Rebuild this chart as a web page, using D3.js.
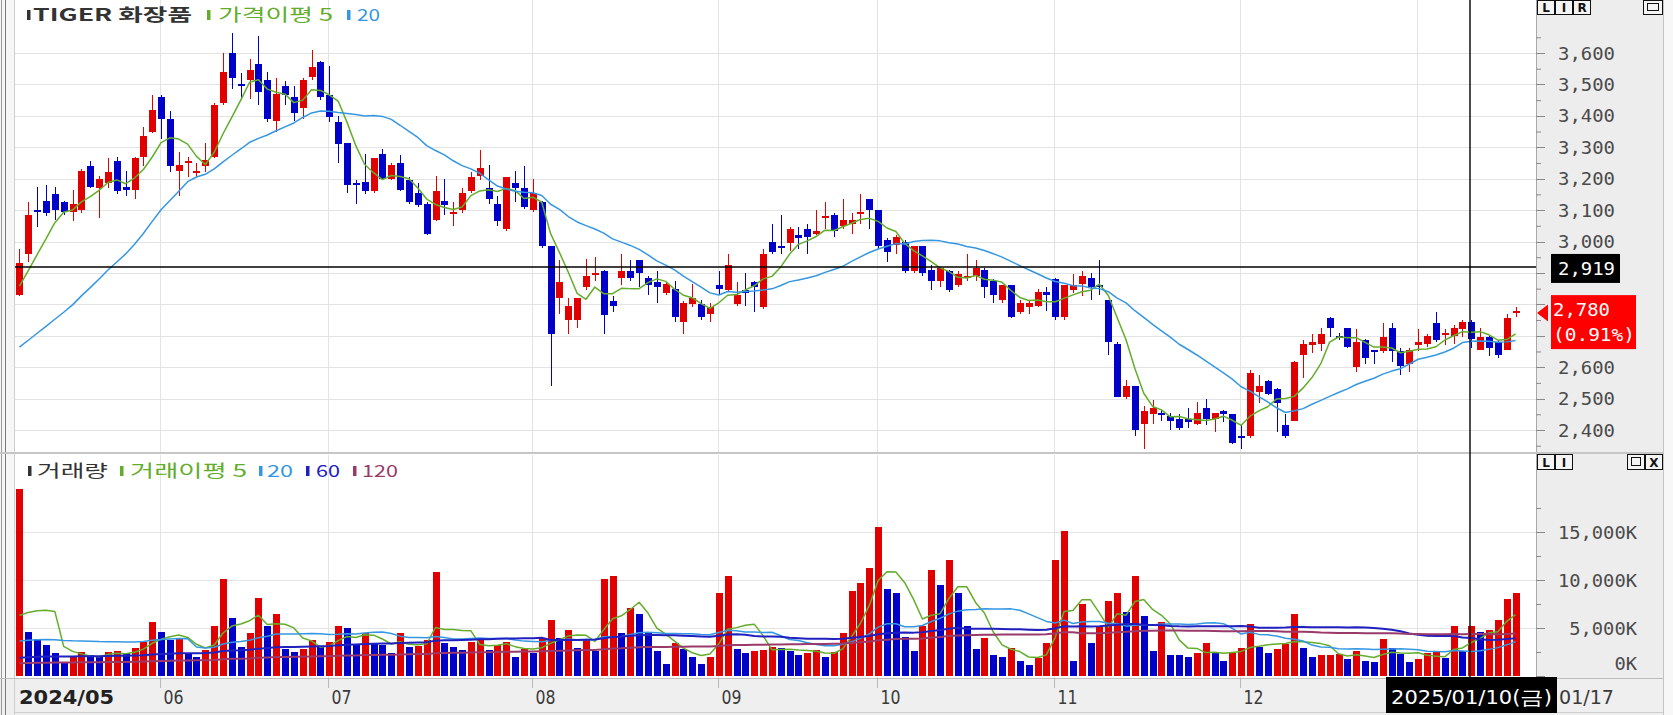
<!DOCTYPE html>
<html><head><meta charset="utf-8">
<script src="https://cdn.jsdelivr.net/npm/d3@7"></script>
<style>html,body{margin:0;padding:0;background:#fff;overflow:hidden}</style>
</head><body><svg id="c" width="1673" height="715"></svg>
<script>
// ---------------- DATA ----------------
const monthDays = [
 ["2024/05", [9,10,13,14,16,17,20,21,22,23,24,27,28,29,30,31]],
 ["2024/06", [3,4,5,7,10,11,12,13,14,17,18,19,20,21,24,25,26,27,28]],
 ["2024/07", [1,2,3,4,5,8,9,10,11,12,15,16,17,18,19,22,23,24,25,26,29,30,31]],
 ["2024/08", [1,2,5,6,7,8,9,12,13,14,16,19,20,21,22,23,26,27,28,29,30]],
 ["2024/09", [2,3,4,5,6,9,10,11,12,13,19,20,23,24,25,26,27,30]],
 ["2024/10", [2,4,7,8,10,11,14,15,16,17,18,21,22,23,24,25,28,29,30,31]],
 ["2024/11", [1,4,5,6,7,8,11,12,13,14,15,18,19,20,21,22,25,26,27,28,29]],
 ["2024/12", [2,3,4,5,6,9,10,11,12,13,16,17,18,19,20,23,24,26,27,30]],
 ["2025/01", [2,3,6,7,8,9,10,13,14,15,16,17]]
];

const open = [
 2830,2960,3100,3130,3150,3125,3095,3100,3240,3170,
 3185,3255,3175,3165,3270,3350,3460,3390,3225,3250,
 3220,3240,3270,3440,3600,3500,3515,3565,3515,3385,
 3495,3460,3425,3525,3570,3465,3380,3315,3185,3190,
 3160,3280,3200,3250,3195,3155,3120,3070,3130,3090,
 3100,3160,3210,3170,3120,3040,3185,3170,3100,3125,
 2985,2820,2750,2750,2855,2895,2905,2810,2885,2905,
 2940,2885,2870,2835,2850,2745,2800,2800,2770,2860,
 2845,2800,2845,2870,2790,3000,2985,2995,3020,3040,
 3025,3075,3085,3050,3055,3090,3135,3100,3005,2990,
 3000,2905,2985,2910,2875,2905,2860,2885,2890,2910,
 2875,2815,2860,2775,2790,2795,2840,2880,2760,2845,
 2865,2885,2860,2815,2675,2505,2540,2420,2450,2455,
 2445,2435,2435,2420,2470,2435,2460,2450,2380,2380,
 2520,2555,2530,2415,2430,2640,2670,2675,2755,2700,
 2725,2600,2685,2655,2650,2725,2650,2610,2670,2675,
 2740,2705,2700,2720,2745,2655,2695,2680,2655,2775];
const high = [
 2975,3125,3175,3180,3175,3130,3165,3230,3255,3210,
 3265,3270,3225,3270,3365,3465,3465,3415,3285,3270,
 3250,3315,3440,3600,3665,3535,3580,3655,3540,3520,
 3510,3495,3520,3610,3575,3560,3400,3315,3195,3280,
 3265,3295,3250,3275,3205,3185,3125,3210,3200,3125,
 3170,3220,3290,3245,3145,3205,3225,3240,3200,3130,
 2985,2940,2820,2820,2945,2950,2910,2825,2960,2940,
 2940,2890,2905,2870,2875,2810,2865,2815,2805,2905,
 2960,2870,2900,2875,2975,3055,3085,3045,3045,3055,
 3100,3125,3090,3135,3090,3150,3135,3100,3010,3020,
 3005,2985,2985,2925,2920,2910,2905,2960,2940,2915,
 2880,2860,2860,2815,2815,2850,2855,2885,2860,2895,
 2905,2900,2940,2815,2680,2560,2540,2475,2495,2465,
 2455,2450,2470,2490,2500,2455,2465,2450,2420,2590,
 2575,2560,2535,2450,2620,2685,2705,2725,2760,2710,
 2725,2720,2690,2655,2740,2740,2660,2660,2720,2705,
 2775,2720,2735,2750,2750,2725,2700,2685,2770,2790];
const low = [
 2825,2935,3045,3080,3070,3085,3065,3090,3170,3075,
 3170,3150,3145,3135,3240,3345,3325,3220,3145,3205,
 3205,3220,3265,3435,3485,3450,3455,3435,3380,3350,
 3435,3385,3390,3515,3450,3380,3250,3155,3120,3150,
 3155,3195,3195,3160,3120,3110,3020,3065,3085,3050,
 3090,3155,3195,3120,3050,3035,3125,3105,3095,2980,
 2540,2770,2705,2725,2845,2875,2705,2775,2860,2875,
 2855,2830,2805,2830,2745,2705,2790,2750,2745,2830,
 2840,2795,2795,2775,2785,2960,2960,2970,2975,2960,
 3020,3040,3015,3040,3025,3055,3040,2975,2935,2960,
 2900,2900,2890,2845,2855,2840,2855,2875,2875,2820,
 2805,2805,2755,2770,2770,2790,2780,2750,2750,2835,
 2825,2815,2830,2640,2505,2500,2380,2340,2420,2430,
 2400,2400,2405,2415,2415,2395,2425,2355,2340,2375,
 2485,2510,2395,2375,2430,2565,2645,2650,2695,2685,
 2660,2585,2610,2610,2645,2615,2575,2585,2650,2665,
 2680,2670,2675,2695,2660,2655,2635,2630,2655,2760];
const close = [
 2930,3085,3095,3090,3100,3095,3120,3225,3175,3200,
 3220,3160,3165,3265,3335,3420,3390,3240,3245,3255,
 3225,3260,3435,3540,3520,3495,3545,3475,3390,3470,
 3465,3410,3515,3555,3460,3395,3310,3180,3180,3160,
 3265,3200,3245,3165,3125,3115,3025,3160,3115,3095,
 3155,3205,3235,3135,3065,3205,3170,3110,3155,2985,
 2705,2870,2795,2820,2890,2900,2765,2795,2905,2885,
 2900,2860,2855,2865,2760,2805,2820,2760,2790,2850,
 2925,2830,2835,2855,2960,2965,2980,3040,3010,3015,
 3035,3080,3035,3070,3070,3095,3100,2985,2965,3015,
 2905,2985,2900,2875,2915,2845,2895,2890,2915,2855,
 2830,2860,2760,2805,2805,2840,2830,2760,2860,2860,
 2890,2855,2855,2680,2505,2540,2400,2460,2470,2450,
 2430,2405,2425,2455,2435,2455,2450,2360,2375,2580,
 2540,2515,2485,2380,2615,2675,2680,2705,2725,2695,
 2665,2680,2630,2650,2695,2650,2605,2655,2680,2700,
 2685,2710,2725,2745,2690,2695,2660,2640,2755,2780];
// volume in thousands of shares (K)
const volume = [
 19500,4620,3850,3230,2430,1320,2010,2530,2190,2010,
 2530,2560,2360,2950,3580,5590,4620,3700,3820,2360,
 2010,2700,5240,10070,6000,3050,4440,8090,5240,6420,
 2780,2530,2800,3750,3050,3580,5240,4970,3230,4440,
 3400,3230,2360,4440,3050,3150,3750,10870,3400,2990,
 2710,3580,3750,2710,3230,3580,2010,2780,2430,3920,
 5830,3920,4790,2880,3750,2640,10070,10450,4440,7050,
 6420,4440,2640,1250,3400,2810,2010,1250,2010,8680,
 10450,2810,2430,2640,2700,3050,2950,2600,2190,2430,
 2710,2010,2530,4440,8850,9650,11280,15490,9060,8680,
 4100,2600,5240,11040,9480,12080,8680,5240,2810,3990,
 2190,2010,2950,1600,1150,1910,3400,12080,15100,1600,
 7470,3400,5140,7850,8610,6700,10450,6280,2600,5590,
 2190,2150,2010,2430,3400,2430,1600,2430,2950,5420,
 3050,2430,2780,3300,6420,2950,2010,2190,2220,2250,
 1770,2600,1600,1420,3820,2880,2260,1420,1770,2430,
 2460,1910,5240,2600,5240,4620,4790,5830,8020,8680];

// moving-average periods and the average level of the (off-screen) bars before the first one
const priceMaPeriods = [5, 20];
const priceMaPreAvg  = [2840, 2650];
const volMaPeriods   = [5, 20, 60, 120];
const volMaPreAvg    = [3000, 2800, 1610, 1170];

const priceTicks = [2400,2500,2600,2700,2800,2900,3000,3100,3200,3300,3400,3500,3600];
const volTicks = [0, 5000, 10000, 15000];
const crossDate = "2025/01/10";
const crossPrice = 2919;
const weekdayKo = ["일","월","화","수","목","금","토"];

// ---------------- HELPERS ----------------
const dates = monthDays.flatMap(([m, ds]) => ds.map(d => m + "/" + String(d).padStart(2, "0")));
const N = close.length;
function movingAvg(arr, n, pre) {
  return arr.map((_, i) => {
    let s = 0;
    for (let k = i - n + 1; k <= i; k++) s += k >= 0 ? arr[k] : pre;
    return s / n;
  });
}
const RED = "#e00000", BLUE = "#0000c8";
const C_MA5 = "#63ad2b", C_MA20 = "#3597e2", C_MA60 = "#2020c0", C_MA120 = "#993a6a";
const priceMaColors = [C_MA5, C_MA20];
const volMaColors = [C_MA5, C_MA20, C_MA60, C_MA120];

const svg = d3.select("#c");
const NUM_FONT = "'DejaVu Sans Mono', monospace";
const COND_FONT = "'DejaVu Sans Condensed', 'DejaVu Sans', sans-serif";
const KO_FONT = "'Noto Sans CJK KR', 'DejaVu Sans', sans-serif";

// layout
const PL = 15, PR = 1536, P_TOP = 0, P_BOT = 452, V_TOP = 455, V_BOT = 678;

// scales
const x = d3.scaleBand().domain(d3.range(N)).range([15, 1520]).paddingInner(0.3).paddingOuter(0.15);
const bw = 6;
const cx = i => x(i) + x.bandwidth() / 2;
const bx = i => Math.round(cx(i) - bw / 2);
const yP = d3.scaleLinear().domain([2400, 3600]).range([430, 53]);
const yV = d3.scaleLinear().domain([0, 15000]).range([676, 532]);

// ---------------- BACKGROUND / FRAME ----------------
svg.append("rect").attr("width", 1673).attr("height", 715).attr("fill", "#fff");
svg.append("rect").attr("x", 0).attr("y", 0).attr("width", PL).attr("height", 715).attr("fill", "#f6f6f6");
svg.append("rect").attr("x", PR).attr("y", 0).attr("width", 1663 - PR).attr("height", V_BOT).attr("fill", "#ededed");
svg.append("rect").attr("x", 1663).attr("y", 0).attr("width", 10).attr("height", 715).attr("fill", "#f7f7f7");
svg.append("rect").attr("x", 0).attr("y", V_BOT).attr("width", 1663).attr("height", 715 - V_BOT).attr("fill", "#efefef");

const frame = svg.append("g").attr("shape-rendering", "crispEdges");
[[1.5, "#9a9a9a"], [5.5, "#7a7a7a"], [14.5, "#cfcfcf"]].forEach(([xx, c]) =>
  frame.append("line").attr("x1", xx).attr("x2", xx).attr("y1", 0).attr("y2", 715).attr("stroke", c));
frame.append("line").attr("x1", PR + 0.5).attr("x2", PR + 0.5).attr("y1", 0).attr("y2", V_BOT).attr("stroke", "#a8a8a8");
frame.append("line").attr("x1", 1663.5).attr("x2", 1663.5).attr("y1", 0).attr("y2", 715).attr("stroke", "#c4c4c4");
frame.append("rect").attr("x", 0).attr("y", P_BOT).attr("width", 1663).attr("height", 2).attr("fill", "#c6c6c6");
frame.append("line").attr("x1", 0).attr("x2", 1663).attr("y1", V_BOT + 0.5).attr("y2", V_BOT + 0.5).attr("stroke", "#bdbdbd");
frame.append("line").attr("x1", 15).attr("x2", 1663).attr("y1", 712.5).attr("y2", 712.5).attr("stroke", "#d0d0d0");

// ---------------- GRID ----------------
const grid = svg.append("g").attr("shape-rendering", "crispEdges").attr("stroke", "#e3e3e3");
grid.selectAll("line.hp").data(priceTicks).join("line")
  .attr("x1", PL).attr("x2", PR).attr("y1", d => Math.round(yP(d)) + 0.5).attr("y2", d => Math.round(yP(d)) + 0.5);
grid.selectAll("line.hv").data(volTicks.filter(d => d > 0)).join("line").attr("class", "hv")
  .attr("x1", PL).attr("x2", PR).attr("y1", d => Math.round(yV(d)) + 0.5).attr("y2", d => Math.round(yV(d)) + 0.5);

// month starts
const monthStarts = [];
dates.forEach((d, i) => { if (i === 0 || d.slice(0, 7) !== dates[i - 1].slice(0, 7)) monthStarts.push(i); });
grid.selectAll("line.vp").data(monthStarts.filter(i => i > 0)).join("line").attr("class", "vp")
  .attr("x1", i => Math.round(cx(i)) - 0.5).attr("x2", i => Math.round(cx(i)) - 0.5)
  .attr("y1", P_TOP).attr("y2", P_BOT);
grid.selectAll("line.vv").data(monthStarts.filter(i => i > 0)).join("line").attr("class", "vv")
  .attr("x1", i => Math.round(cx(i)) - 0.5).attr("x2", i => Math.round(cx(i)) - 0.5)
  .attr("y1", V_TOP).attr("y2", V_BOT);

// ---------------- CANDLES ----------------
const gC = svg.append("g").attr("shape-rendering", "crispEdges");
const idx = d3.range(N);
const candleColor = i => close[i] >= open[i] ? RED : BLUE;
gC.selectAll("rect.w").data(idx).join("rect").attr("class", "w")
  .attr("x", i => bx(i) + 3).attr("width", 1)
  .attr("y", i => Math.round(yP(high[i])))
  .attr("height", i => Math.max(1, Math.round(yP(low[i])) - Math.round(yP(high[i]))))
  .attr("fill", candleColor);
gC.selectAll("rect.b").data(idx).join("rect").attr("class", "b")
  .attr("x", i => bx(i)).attr("width", bw + 1)
  .attr("y", i => Math.round(yP(Math.max(open[i], close[i]))))
  .attr("height", i => Math.max(2, Math.round(yP(Math.min(open[i], close[i]))) - Math.round(yP(Math.max(open[i], close[i])))))
  .attr("fill", candleColor);

// price MAs
priceMaPeriods.forEach((n, k) => {
  const m = movingAvg(close, n, priceMaPreAvg[k]);
  svg.append("path").datum(m)
    .attr("d", d3.line().x((d, i) => cx(i)).y(d => yP(d)))
    .attr("fill", "none").attr("stroke", priceMaColors[k]).attr("stroke-width", 1.5).attr("stroke-linejoin", "round");
});

// ---------------- VOLUME ----------------
const volColor = i => (i === 0 || volume[i] > volume[i - 1]) ? RED : BLUE;
svg.append("g").attr("shape-rendering", "crispEdges")
  .selectAll("rect").data(idx).join("rect")
  .attr("x", i => bx(i)).attr("width", bw + 1)
  .attr("y", i => Math.round(yV(volume[i])))
  .attr("height", i => Math.round(yV(0)) - Math.round(yV(volume[i])))
  .attr("fill", volColor);
volMaPeriods.forEach((n, k) => {
  const m = movingAvg(volume, n, volMaPreAvg[k]);
  svg.append("path").datum(m)
    .attr("d", d3.line().x((d, i) => cx(i)).y(d => yV(d)))
    .attr("fill", "none").attr("stroke", volMaColors[k]).attr("stroke-width", k >= 2 ? 2 : 1.5).attr("stroke-linejoin", "round");
});

// ---------------- CROSSHAIR ----------------
const ci = dates.indexOf(crossDate);
const cX = Math.round(cx(ci)) - 1;
svg.append("line").attr("x1", PL).attr("x2", PR).attr("y1", yP(crossPrice)).attr("y2", yP(crossPrice))
  .attr("stroke", "#000").attr("stroke-width", 1.6);
svg.append("line").attr("x1", cX).attr("x2", cX).attr("y1", 0).attr("y2", V_BOT)
  .attr("stroke", "#000").attr("stroke-width", 1.4);

// ---------------- LEGENDS ----------------
function legend(items, yc) {
  const g = svg.append("g");
  items.forEach(it => {
    g.append("rect").attr("x", it.mx).attr("y", yc - 5).attr("width", 3.5).attr("height", 10).attr("fill", it.mc);
    g.append("text").attr("x", it.x).attr("y", yc + 6).text(it.t)
      .attr("font-family", KO_FONT).attr("font-size", 17).attr("font-weight", it.bold ? 700 : 400)
      .attr("fill", it.c).attr("textLength", it.w).attr("lengthAdjust", "spacingAndGlyphs");
  });
}
legend([
  { mx: 27, mc: "#333", x: 33, w: 159, t: "TIGER 화장품", c: "#333", bold: true },
  { mx: 207, mc: C_MA5, x: 218, w: 115, t: "가격이평 " + priceMaPeriods[0], c: C_MA5 },
  { mx: 347, mc: C_MA20, x: 357, w: 23, t: String(priceMaPeriods[1]), c: C_MA20 }
], 15);
legend([
  { mx: 28, mc: "#333", x: 37, w: 71, t: "거래량", c: "#333" },
  { mx: 120, mc: C_MA5, x: 130, w: 117, t: "거래이평 " + volMaPeriods[0], c: C_MA5 },
  { mx: 259, mc: C_MA20, x: 267, w: 26, t: String(volMaPeriods[1]), c: C_MA20 },
  { mx: 306, mc: C_MA60, x: 316, w: 24, t: String(volMaPeriods[2]), c: C_MA60 },
  { mx: 353, mc: C_MA120, x: 362, w: 36, t: String(volMaPeriods[3]), c: C_MA120 }
], 471);

// ---------------- AXES ----------------
const yc = yP(crossPrice);
const last = close[N - 1], prev = close[N - 2];
const yl = yP(last);
// price labels hidden under the crosshair / current-price boxes are not drawn
const boxTop = yl - 15.5, boxBot = yl + 38.5;
const hiddenPrice = d => (Math.abs(yP(d) - yc) < 14) || (yP(d) > boxTop + 4 && yP(d) < boxBot);

function styleAxis(g, textX, widthFn) {
  g.select(".domain").remove();
  g.selectAll(".tick line").attr("stroke", "#8a8a8a").attr("shape-rendering", "crispEdges");
  g.selectAll(".tick text").attr("x", textX).attr("text-anchor", "end").attr("dy", "0.36em")
    .attr("font-family", NUM_FONT).attr("font-size", 17).attr("fill", "#4a4a4a")
    .attr("textLength", widthFn).attr("lengthAdjust", "spacingAndGlyphs");
}
const gPA = svg.append("g").attr("transform", `translate(${PR},0)`)
  .call(d3.axisRight(yP).tickValues(priceTicks).tickSize(9).tickFormat(d3.format(",")));
styleAxis(gPA, 79, 57);
gPA.selectAll(".tick").filter(hiddenPrice).select("text").remove();
svg.append("g").attr("transform", `translate(${PR},0)`)
  .call(d3.axisRight(yP).tickValues(d3.range(2350, 3751, 100)).tickSize(5).tickFormat(""))
  .call(g => { g.select(".domain").remove(); g.selectAll(".tick line").attr("stroke", "#8a8a8a"); });

const volFmt = d => d3.format(",")(d) + "K";
const gVA = svg.append("g").attr("transform", `translate(${PR},0)`)
  .call(d3.axisRight(yV).tickValues(volTicks).tickSize(9).tickFormat(volFmt));
styleAxis(gVA, 101, d => volFmt(d).length * 11.3);
gVA.selectAll(".tick").filter(d => d === 0).select("text").attr("y", -13);
svg.append("g").attr("transform", `translate(${PR},0)`)
  .call(d3.axisRight(yV).tickValues([2500, 7500, 12500, 17500]).tickSize(5).tickFormat(""))
  .call(g => { g.select(".domain").remove(); g.selectAll(".tick line").attr("stroke", "#8a8a8a"); });

// x axis (month labels)
const ci2 = dates.indexOf(crossDate);
const cXd = Math.round(cx(ci2)) - 1;
const dateBoxL = cXd - 84, dateBoxR = cXd + 87;
const xa = svg.append("g");
monthStarts.forEach((i, k) => {
  const m = dates[i].slice(0, 7);
  const first = k === 0 || m.slice(0, 4) !== dates[monthStarts[k - 1]].slice(0, 4);
  const lbl = first ? m : m.slice(5);
  const gx = Math.round(cx(i)) - 0.5;
  if (k > 0) xa.append("line").attr("x1", gx).attr("x2", gx).attr("y1", V_BOT).attr("y2", V_BOT + 10)
    .attr("stroke", "#b8b8b8").attr("shape-rendering", "crispEdges");
  const lx = k === 0 ? 19 : gx + 3;
  const lw = lbl.length * (k === 0 ? 13.6 : 10);
  if (lx + lw > dateBoxL && lx < dateBoxR) return; // covered by the crosshair date box
  xa.append("text").attr("x", lx).attr("y", 704).text(lbl)
    .attr("font-family", COND_FONT).attr("font-size", 19).attr("font-weight", k === 0 ? 700 : 400)
    .attr("fill", k === 0 ? "#222" : "#3a3a3a")
    .attr("textLength", lw).attr("lengthAdjust", "spacingAndGlyphs");
});

// ---------------- LABEL BOXES ----------------
// crosshair price
svg.append("rect").attr("x", 1551).attr("y", yc - 13).attr("width", 69).attr("height", 29).attr("fill", "#000");
svg.append("text").attr("x", 1615).attr("y", yc + 1.5).attr("dy", "0.36em").attr("text-anchor", "end")
  .text(d3.format(",")(crossPrice)).attr("font-family", NUM_FONT).attr("font-size", 17).attr("fill", "#fff")
  .attr("textLength", 57).attr("lengthAdjust", "spacingAndGlyphs");

// current price
const pct = (last / prev - 1) * 100;
svg.append("path").attr("d", `M${PR + 1},${yl + 2.5} L${PR + 12},${yl - 6} L${PR + 12},${yl + 11} Z`).attr("fill", "#ff0000");
svg.append("rect").attr("x", 1551).attr("y", boxTop).attr("width", 85).attr("height", boxBot - boxTop).attr("fill", "#ff0000");
svg.append("text").attr("x", 1553).attr("y", yl - 0.5).attr("dy", "0.36em").text(d3.format(",")(last))
  .attr("font-family", NUM_FONT).attr("font-size", 17).attr("fill", "#fff")
  .attr("textLength", 57).attr("lengthAdjust", "spacingAndGlyphs");
svg.append("text").attr("x", 1553).attr("y", yl + 24.5).attr("dy", "0.36em").text("(" + pct.toFixed(2) + "%)")
  .attr("font-family", NUM_FONT).attr("font-size", 17).attr("fill", "#fff")
  .attr("textLength", 82).attr("lengthAdjust", "spacingAndGlyphs");

// crosshair date
const [yy, mm, dd] = crossDate.split("/").map(Number);
const dateLbl = crossDate + "(" + weekdayKo[new Date(yy, mm - 1, dd).getDay()] + ")";
svg.append("rect").attr("x", dateBoxL).attr("y", V_BOT - 1).attr("width", dateBoxR - dateBoxL).attr("height", 36).attr("fill", "#000");
svg.append("text").attr("x", dateBoxL + 5).attr("y", 704).text(dateLbl)
  .attr("font-family", COND_FONT).attr("font-size", 19).attr("fill", "#fff")
  .attr("textLength", 161).attr("lengthAdjust", "spacingAndGlyphs");
const lastLbl = dates[N - 1].slice(5);
svg.append("text").attr("x", dateBoxR + 2).attr("y", 704).text(lastLbl)
  .attr("font-family", COND_FONT).attr("font-size", 19).attr("fill", "#3a3a3a")
  .attr("textLength", 55).attr("lengthAdjust", "spacingAndGlyphs");

// ---------------- PANEL BUTTONS ----------------
function buttons(x0, y0, h, labels, cellW) {
  const g = svg.append("g").attr("shape-rendering", "crispEdges");
  labels.forEach((l, k) => {
    const xx = x0 + k * cellW;
    g.append("rect").attr("x", xx + 0.5).attr("y", y0 + 0.5).attr("width", cellW - 1).attr("height", h - 1)
      .attr("fill", "#f4f4f4").attr("stroke", "#111").attr("stroke-width", 1.5);
    if (l === "box") {
      g.append("rect").attr("x", xx + 4.5).attr("y", y0 + 3.5).attr("width", cellW - 9).attr("height", h - 8)
        .attr("fill", "none").attr("stroke", "#111").attr("stroke-width", 1.5);
    } else {
      g.append("text").attr("x", xx + cellW / 2).attr("y", y0 + h / 2 + 4.5).attr("text-anchor", "middle").text(l)
        .attr("font-family", "'DejaVu Sans', sans-serif").attr("font-size", 12).attr("font-weight", 700).attr("fill", "#111");
    }
  });
}
buttons(1537, 0, 15, ["L", "I", "R"], 18);
buttons(1643, 0, 15, ["box"], 20);
buttons(1537, 454, 16, ["L", "I"], 18);
buttons(1627, 454, 16, ["box", "X"], 18);
</script></body></html>
